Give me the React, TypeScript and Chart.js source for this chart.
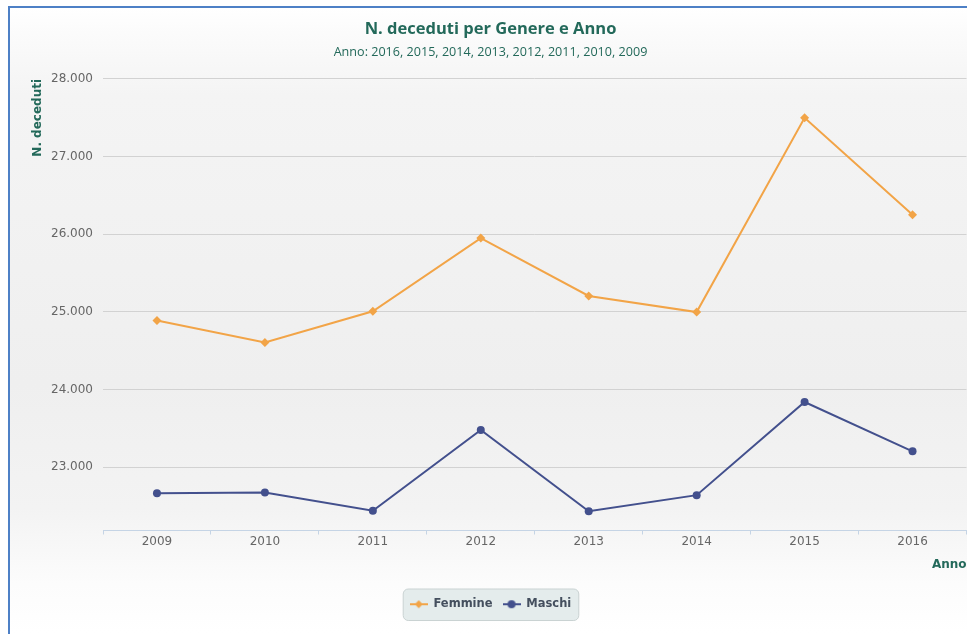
import React, { useEffect, useRef } from 'react';
import { Chart, registerables } from 'chart.js';

Chart.register(...registerables);

const years = ['2009', '2010', '2011', '2012', '2013', '2014', '2015', '2016'];
const femmine = [24890, 24605, 25008, 25950, 25205, 24998, 27500, 26250];
const maschi = [22665, 22675, 22440, 23480, 22432, 22640, 23840, 23205];
const yTicks = [23000, 24000, 25000, 26000, 27000, 28000];
const Y_MIN = 22185;
const Y_MAX = 28000;

const titleText = 'N. deceduti per Genere e Anno';
const subtitleText = 'Anno: 2016, 2015, 2014, 2013, 2012, 2011, 2010, 2009';
const yTitle = 'N. deceduti';
const xTitle = 'Anno';

const TEAL = '#23695a';
const ORANGE = '#f2a447';
const NAVY = '#43508d';

function legendIcon(color: string, kind: string) {
  const c = document.createElement('canvas');
  c.width = 18;
  c.height = 10;
  const ctx = c.getContext('2d') as CanvasRenderingContext2D;
  ctx.strokeStyle = color;
  ctx.lineWidth = 2;
  ctx.beginPath();
  ctx.moveTo(0, 5);
  ctx.lineTo(18, 5);
  ctx.stroke();
  ctx.fillStyle = color;
  ctx.beginPath();
  if (kind === 'diamond') {
    ctx.moveTo(9, 1);
    ctx.lineTo(13, 5);
    ctx.lineTo(9, 9);
    ctx.lineTo(5, 5);
    ctx.closePath();
  } else {
    ctx.arc(9, 5, 4, 0, Math.PI * 2);
  }
  ctx.fill();
  return c;
}

const fmt = (v: number) => String(Math.round(v)).replace(/\B(?=(\d{3})+(?!\d))/g, '.');

export default function App() {
  const ref = useRef<HTMLCanvasElement | null>(null);

  useEffect(() => {
    if (!ref.current) return;
    const icons = [legendIcon(ORANGE, 'diamond'), legendIcon(NAVY, 'circle')];

    const legendBg = {
      id: 'legendBg',
      beforeDraw(chart: any) {
        const lg = chart.legend;
        if (!lg || !lg.legendHitBoxes || !lg.legendHitBoxes.length) return;
        const hb = lg.legendHitBoxes;
        const first = hb[0];
        const last = hb[hb.length - 1];
        const x0 = first.left - 7;
        const x1 = last.left + last.width + 7;
        const y0 = first.top - 10;
        const y1 = first.top + first.height + 10;
        const ctx = chart.ctx;
        ctx.save();
        ctx.beginPath();
        ctx.roundRect(x0 + 0.5, y0 + 0.5, x1 - x0, y1 - y0, 5);
        ctx.fillStyle = '#e4ecec';
        ctx.fill();
        ctx.strokeStyle = '#c9d2d2';
        ctx.lineWidth = 1;
        ctx.stroke();
        ctx.restore();
      },
    };

    const chart = new Chart(ref.current, {
      type: 'line',
      data: {
        labels: years,
        datasets: [
          {
            label: 'Femmine',
            data: femmine,
            borderColor: ORANGE,
            backgroundColor: ORANGE,
            borderWidth: 2,
            pointStyle: 'rectRot',
            pointRadius: 4.5,
            pointBorderWidth: 0,
            tension: 0,
          },
          {
            label: 'Maschi',
            data: maschi,
            borderColor: NAVY,
            backgroundColor: NAVY,
            borderWidth: 2,
            pointStyle: 'circle',
            pointRadius: 4,
            pointBorderWidth: 0,
            tension: 0,
          },
        ],
      },
      options: {
        responsive: false,
        animation: false,
        layout: { padding: { left: 0, right: 0, top: 0, bottom: 14 } },
        plugins: {
          title: {
            display: true,
            text: titleText,
            color: TEAL,
            font: { family: 'Open Sans', size: 16.5, weight: 'bold' },
            padding: { top: 11, bottom: 3 },
          },
          subtitle: {
            display: true,
            text: subtitleText,
            color: TEAL,
            font: { family: 'Open Sans', size: 12.6 },
            padding: { top: 3.5, bottom: 18.5 },
          },
          legend: {
            position: 'bottom',
            labels: {
              usePointStyle: true,
              pointStyleWidth: 18,
              padding: 10,
              color: '#444f5e',
              font: { family: 'DejaVu Sans', size: 11.5, weight: 'bold' },
              generateLabels: (c: any) =>
                (Chart.defaults.plugins.legend.labels as any)
                  .generateLabels(c)
                  .map((l: any, i: number) => ({ ...l, pointStyle: icons[i] })),
            },
          },
          tooltip: { enabled: false },
        },
        scales: {
          x: {
            type: 'category',
            offset: true,
            grid: {
              offset: true,
              drawOnChartArea: false,
              drawTicks: true,
              tickLength: 4,
              color: '#c5d4e5',
            },
            border: { color: '#c5d4e5' },
            ticks: {
              color: '#666666',
              font: { family: 'DejaVu Sans', size: 12 },
              padding: 0,
            },
            title: {
              display: true,
              text: xTitle,
              align: 'end',
              color: TEAL,
              font: { family: 'DejaVu Sans', size: 12, weight: 'bold' },
              padding: { top: 0, bottom: 16 },
            },
            afterFit: (s: any) => {
              s.height = 58;
            },
          },
          y: {
            min: Y_MIN,
            max: Y_MAX,
            afterBuildTicks: (s: any) => {
              s.ticks = yTicks.map((v) => ({ value: v }));
            },
            grid: { color: '#d2d2d2', drawTicks: false },
            border: { display: false },
            ticks: {
              padding: 10,
              color: '#666666',
              font: { family: 'DejaVu Sans', size: 12 },
              callback: (v: any) => fmt(Number(v)),
            },
            title: {
              display: true,
              text: yTitle,
              align: 'end',
              color: TEAL,
              font: { family: 'DejaVu Sans', size: 12, weight: 'bold' },
              padding: { top: 21, bottom: 0 },
            },
            afterFit: (s: any) => {
              s.width = 93;
            },
          },
        },
      },
      plugins: [legendBg],
    } as any);

    return () => chart.destroy();
  }, []);

  return (
    <div
      style={{
        position: 'fixed',
        left: 8,
        top: 6,
        width: 963,
        height: 628,
        boxSizing: 'border-box',
        borderLeft: '2px solid #4d80c6',
        borderTop: '2px solid #4d80c6',
        background:
          'linear-gradient(to bottom, #ffffff 0%, #fbfbfb 4%, #f4f4f4 14%, #efefef 60%, #f3f3f3 80%, #fcfcfc 92%, #ffffff 100%)',
      }}
    >
      <canvas ref={ref} width={961} height={626} style={{ display: 'block' }} />
    </div>
  );
}
